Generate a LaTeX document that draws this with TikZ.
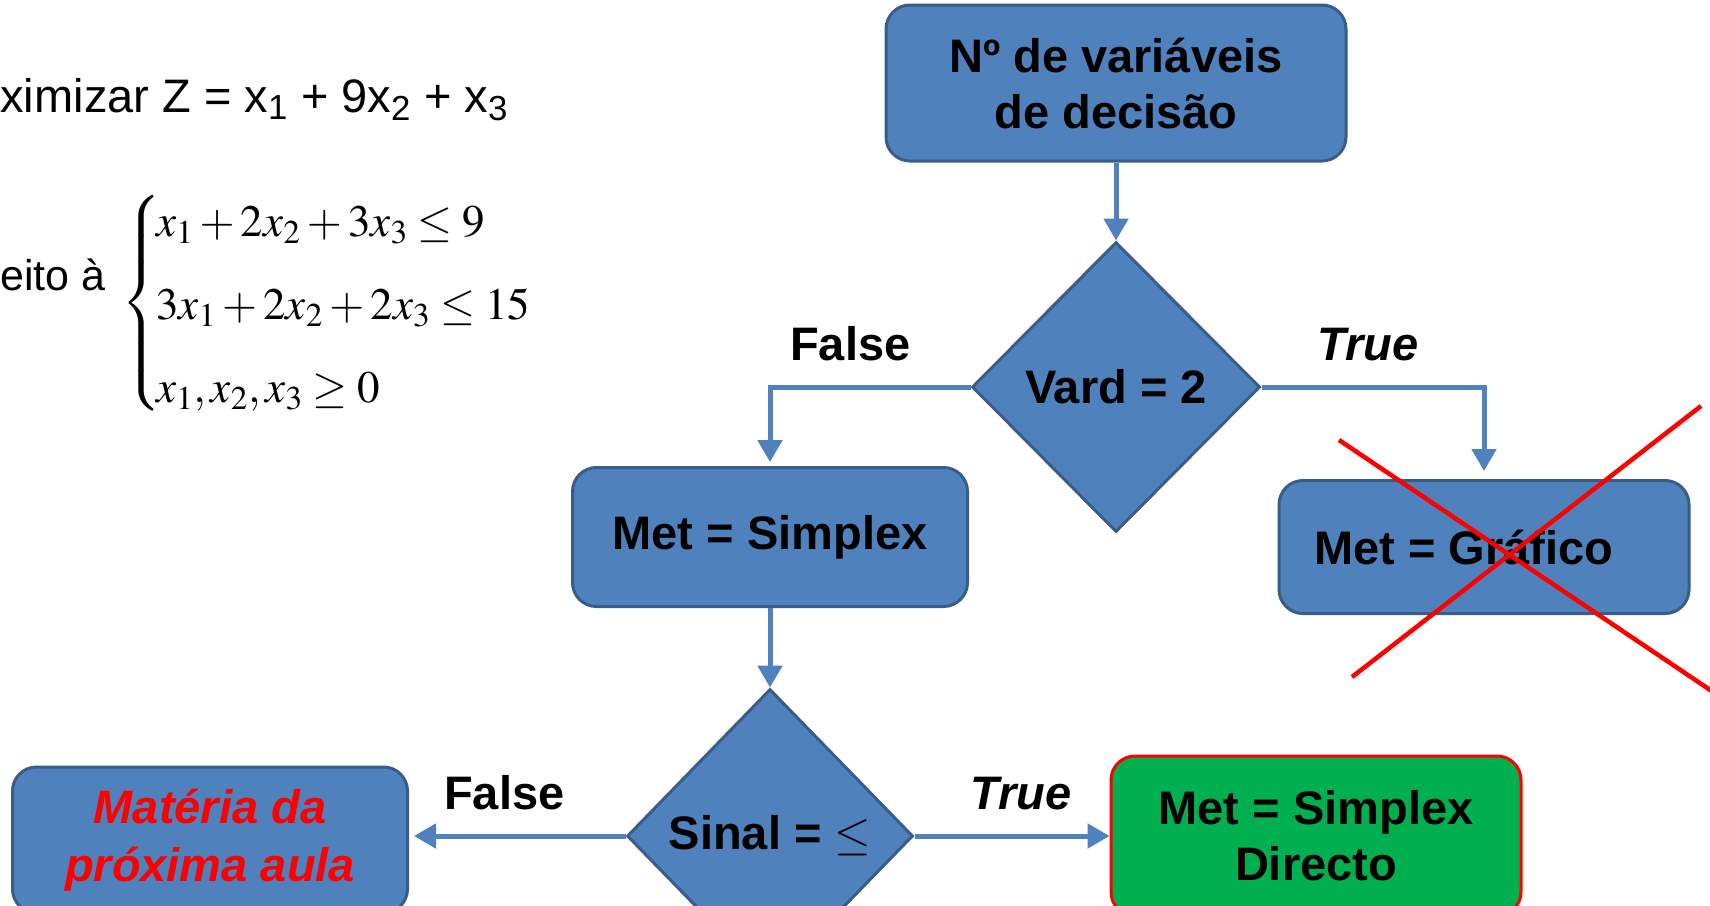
\documentclass[tikz,border=0pt]{standalone}
\usepackage{mathptmx}
\usepackage[no-math]{fontspec}
\setmainfont{Liberation Sans}
\usetikzlibrary{shapes.geometric,arrows.meta,positioning,calc}

\definecolor{boxblue}{HTML}{4F81BD}
\definecolor{boxedge}{HTML}{385D8A}
\definecolor{okgreen}{HTML}{00B050}

\begin{document}
\begin{tikzpicture}[x=1pt, y=-1pt,
    box/.style={rectangle, draw=boxedge, line width=3pt, fill=boxblue, rounded corners=24pt, align=center, inner sep=0pt, font=\bfseries\fontsize{47}{56}\selectfont},
    decision/.style={diamond, draw=boxedge, line width=3pt, fill=boxblue, inner sep=0pt, font=\bfseries\fontsize{47}{56}\selectfont},
    flow/.style={draw=boxblue, line width=5pt, -{Triangle[length=22pt,width=24pt]}},
    lbl/.style={inner sep=0pt, font=\bfseries\fontsize{47}{56}\selectfont},
    plain/.style={inner sep=0pt, font=\fontsize{47}{56}\selectfont},
    cross/.style={draw=red, line width=4.5pt}]
    \useasboundingbox (0,0) rectangle (1710,905);
    \clip (0,0) rectangle (1710,905);
    \fill[white] (0,0) rectangle (1710,905);

    % Problem statement
    \node (obj) [plain, anchor=base west] at (-65,112) {Maximizar Z = x\textsubscript{1} + 9x\textsubscript{2} + x\textsubscript{3}};
    \node (suj) [plain, anchor=base west, font=\fontsize{43}{56}\selectfont] at (-62,290) {Sujeito à};
    \node (restr) [plain, anchor=west, font=\fontsize{45}{56}\selectfont] at (121,307) {\renewcommand{\arraystretch}{1.48}\delimitershortfall=60pt\delimiterfactor=800
      $\left\{\vrule height 121pt depth 121pt width 0pt\right.\hspace{-11pt}\begin{array}{@{}l@{}}
        x_1+2x_2+3x_3\leq 9\\
        3x_1+2x_2+2x_3\leq 15\\
        x_1,x_2,x_3\geq 0
      \end{array}$};

    % Nodes
    \node (num) [box, minimum width=460pt, minimum height=156pt] at (1116,83) {Nº de variáveis\\de decisão};
    \node (vard) [decision, minimum width=288pt, minimum height=290pt] at (1116,387) {Vard = 2};
    \node (simplex) [box, minimum width=395pt, minimum height=139pt] at (770,537) {Met = Simplex};
    \node (grafico) [box, minimum width=410pt, minimum height=133pt] at (1484,547) {Met = Gráfico\hspace*{40pt}};
    \node (sinal) [decision, minimum width=286pt, minimum height=294pt] at (770,836) {Sinal = $\leq$};
    \node (materia) [box, minimum width=395pt, minimum height=146pt, text=red, font=\bfseries\itshape\fontsize{47}{58}\selectfont] at (210,840) {Matéria da\\próxima aula};
    \node (directo) [box, draw=red, fill=okgreen, minimum width=410pt, minimum height=160pt] at (1316,836) {Met = Simplex\\Directo};

    % Arrows
    \draw [flow] (num) -- (vard);
    \draw [flow, shorten >=4pt] (vard.west) -| node [lbl, pos=.25, above=24pt, xshift=-20pt] {False} (simplex.north);
    \draw [flow, shorten >=8pt] (vard.east) -| node [lbl, pos=.25, above=24pt, xshift=-5pt] {\itshape True} (grafico.north);
    \draw [flow] (simplex) -- (sinal);
    \draw [flow, shorten >=5pt] (sinal.west) -- node [lbl, above=24pt, xshift=-13pt] {False} (sinal.west -| materia.east);
    \draw [flow] (sinal.east) -- node [lbl, above=24pt, xshift=9pt] {\itshape True} (sinal.east -| directo.west);

    % Crossed out
    \draw [cross] (1339,440) -- (1725,700);
    \draw [cross] (1352,677) -- (1701,406);
\end{tikzpicture}
\end{document}
